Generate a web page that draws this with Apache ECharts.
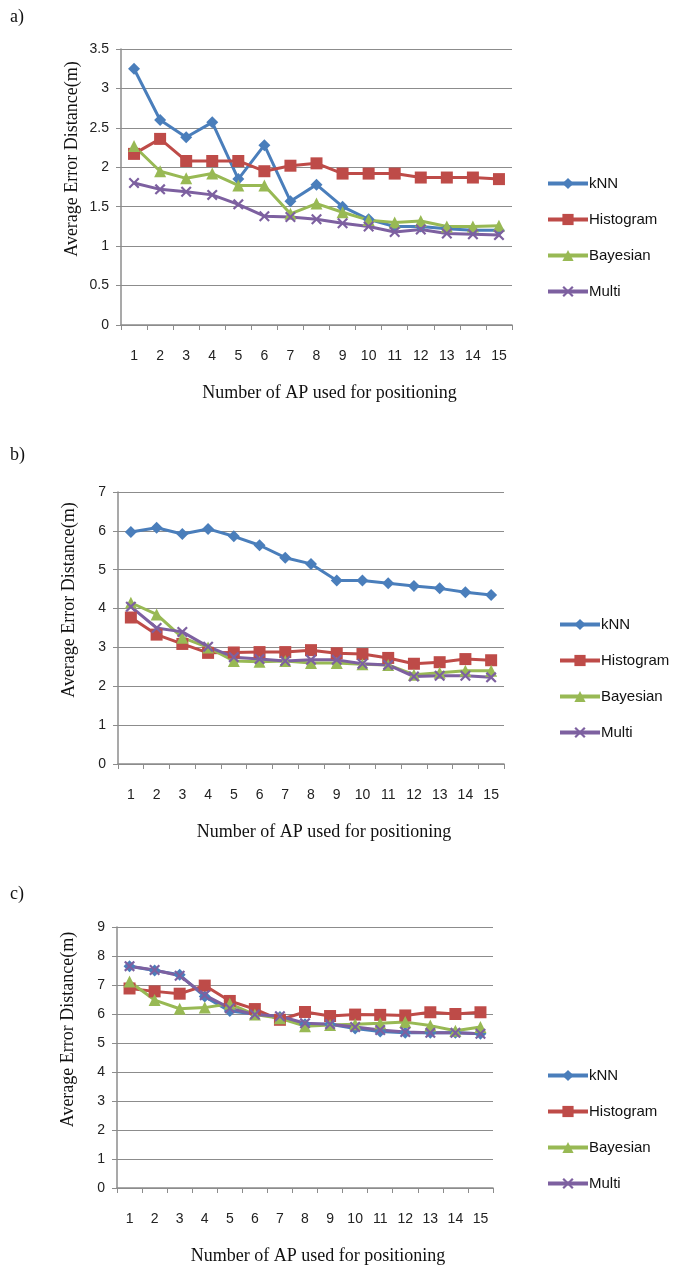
<!DOCTYPE html>
<html>
<head>
<meta charset="utf-8">
<script src="https://cdn.jsdelivr.net/npm/echarts@6/dist/echarts.min.js"></script>
<style>html,body{margin:0;padding:0;background:#fff}#c{width:689px;height:1265px}</style>
</head>
<body>
<div id="c"></div>
<script>
const categories = ['1','2','3','4','5','6','7','8','9','10','11','12','13','14','15'];
const seriesNames = ['kNN','Histogram','Bayesian','Multi'];

const aKNN   = [3.25,2.6,2.38,2.57,1.85,2.28,1.57,1.78,1.5,1.34,1.25,1.25,1.22,1.2,1.2];
const aHist  = [2.17,2.36,2.08,2.08,2.08,1.95,2.02,2.05,1.92,1.92,1.92,1.87,1.87,1.87,1.85];
const aBayes = [2.27,1.95,1.86,1.92,1.77,1.77,1.41,1.54,1.43,1.33,1.3,1.32,1.25,1.25,1.26];
const aMulti = [1.8,1.72,1.69,1.65,1.53,1.38,1.37,1.34,1.29,1.25,1.18,1.21,1.16,1.15,1.14];

const bKNN   = [5.97,6.08,5.92,6.05,5.86,5.63,5.31,5.15,4.72,4.72,4.65,4.58,4.52,4.42,4.35];
const bHist  = [3.77,3.33,3.09,2.86,2.87,2.88,2.88,2.93,2.85,2.83,2.73,2.58,2.62,2.7,2.67];
const bBayes = [4.15,3.85,3.25,3.0,2.65,2.63,2.65,2.6,2.6,2.57,2.55,2.3,2.35,2.4,2.4];
const bMulti = [4.05,3.5,3.4,3.02,2.75,2.7,2.65,2.68,2.68,2.58,2.55,2.25,2.27,2.27,2.23];

const cKNN   = [7.65,7.5,7.35,6.6,6.1,6.0,5.9,5.65,5.65,5.5,5.4,5.35,5.35,5.35,5.32];
const cHist  = [6.88,6.78,6.7,6.98,6.45,6.17,5.8,6.07,5.93,5.98,5.97,5.95,6.06,6.0,6.06];
const cBayes = [7.12,6.48,6.18,6.22,6.35,5.98,5.85,5.58,5.62,5.65,5.68,5.72,5.6,5.42,5.55];
const cMulti = [7.65,7.52,7.32,6.65,6.2,5.98,5.92,5.68,5.65,5.55,5.45,5.38,5.35,5.35,5.32];

const aMax = 3.5, aStep = 0.5;
const bMax = 7, bStep = 1;
const cMax = 9, cStep = 1;

const colors = ['#4A7EBB','#BE4B48','#98B954','#7D60A0'];
const symbols = ['diamond','rect','triangle','path://M0,1.4L1.4,0L5,3.6L8.6,0L10,1.4L6.4,5L10,8.6L8.6,10L5,6.4L1.4,10L0,8.6L3.6,5Z'];
const symSizes = [12,12,12,11];

const panels = [
  {data:[aKNN,aHist,aBayes,aMulti], max:aMax, step:aStep, grid:{left:121,top:49,width:391,height:276}, legendTop:171, legendLeft:541, label:'a)', labelY:8},
  {data:[bKNN,bHist,bBayes,bMulti], max:bMax, step:bStep, grid:{left:118,top:492,width:386,height:272}, legendTop:612, legendLeft:553, label:'b)', labelY:446},
  {data:[cKNN,cHist,cBayes,cMulti], max:cMax, step:cStep, grid:{left:117,top:927,width:376,height:261}, legendTop:1063, legendLeft:541, label:'c)', labelY:885}
];

const gridColor = '#8c8c8c';
const sans = 'Liberation Sans';

const option = {
  animation:false,
  backgroundColor:'#fff',
  grid:[], xAxis:[], yAxis:[], series:[], legend:[], graphic:[]
};

panels.forEach((p, i) => {
  option.grid.push(Object.assign({containLabel:false}, p.grid));
  option.xAxis.push({
    type:'category', gridIndex:i, data:categories, boundaryGap:true,
    axisLine:{lineStyle:{color:gridColor,width:1.5}},
    axisTick:{show:true,length:5,inside:false,lineStyle:{color:gridColor}},
    axisLabel:{color:'#222',fontFamily:sans,fontSize:14,margin:24,interval:0},
    splitLine:{show:false}
  });
  option.yAxis.push({
    type:'value', gridIndex:i, min:0, max:p.max, interval:p.step,
    axisLine:{show:true,lineStyle:{color:gridColor,width:1.5}},
    axisTick:{show:true,length:5,lineStyle:{color:gridColor}},
    axisLabel:{color:'#222',fontFamily:sans,fontSize:14,margin:12},
    splitLine:{show:true,lineStyle:{color:gridColor,width:1.2}}
  });
  p.data.forEach((d, k) => {
    option.series.push({
      type:'line', name:seriesNames[k], xAxisIndex:i, yAxisIndex:i, data:d,
      symbol:symbols[k], symbolSize:symSizes[k],
      lineStyle:{color:colors[k],width:3},
      itemStyle:{color:colors[k]},
      emphasis:{disabled:true}
    });
  });
  option.legend.push({
    orient:'vertical', left:p.legendLeft, top:p.legendTop, itemGap:21,
    itemWidth:40, itemHeight:14,
    data:seriesNames.slice(),
    lineStyle:{width:4},
    textStyle:{fontFamily:sans,fontSize:15,color:'#111',padding:[0,0,0,-4]},
    selectedMode:false
  });
  const g = p.grid;
  option.graphic.push({
    type:'text', left:10, top:p.labelY,
    style:{text:p.label,font:'18px "Liberation Serif"',fill:'#111'}
  });
  option.graphic.push({
    type:'text', x:g.left - 49, y:g.top + g.height/2 - 28, rotation:Math.PI/2,
    style:{text:'Average Error Distance(m)',font:'18px "Liberation Serif"',fill:'#111',align:'center',verticalAlign:'middle'}
  });
  option.graphic.push({
    type:'text', x:g.left + g.width/2 + 13, y:g.top + g.height + 68,
    style:{text:'Number of AP used for positioning',font:'18px "Liberation Serif"',fill:'#111',align:'center',verticalAlign:'middle'}
  });
});

const chart = echarts.init(document.getElementById('c'), null, {renderer:'canvas'});
chart.setOption(option);
</script>
</body>
</html>
